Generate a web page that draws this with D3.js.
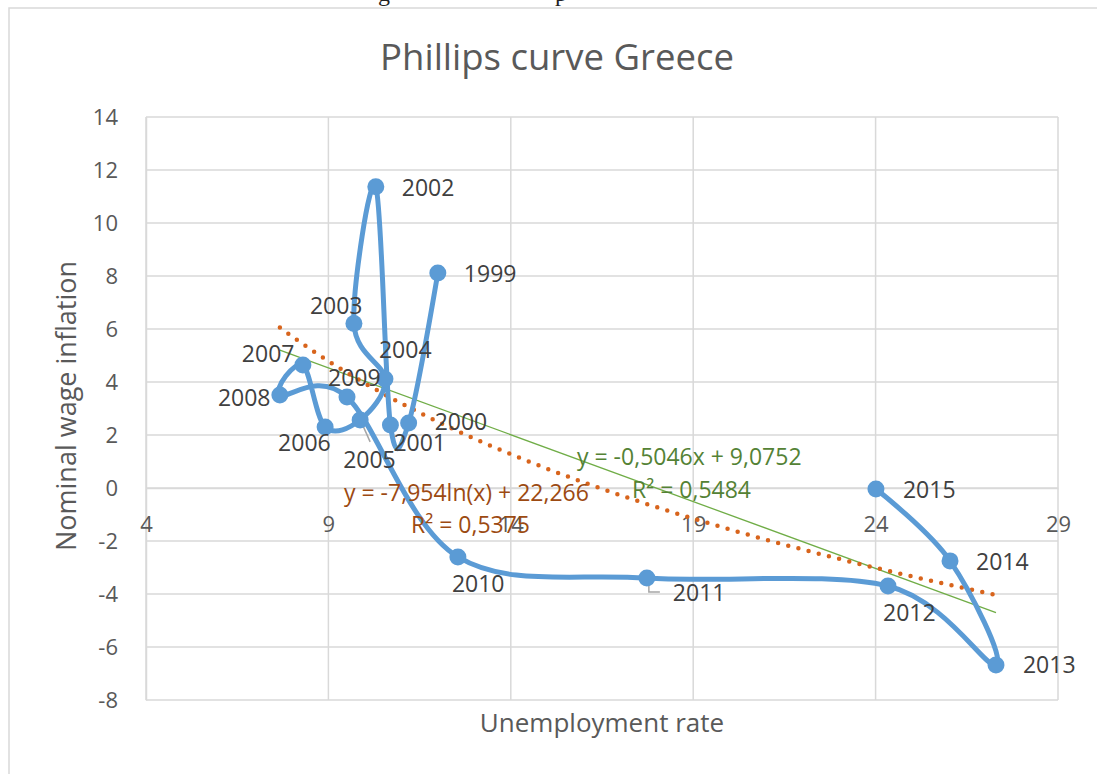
<!DOCTYPE html>
<html>
<head>
<meta charset="utf-8">
<script src="https://cdn.jsdelivr.net/npm/d3@7/dist/d3.min.js"></script>
<style>
  html, body { margin: 0; padding: 0; background: #ffffff; }
  svg { display: block; }
  text { font-family: "Open Sans", sans-serif; }
</style>
</head>
<body>
<svg id="chart" width="1097" height="774"></svg>
<script>
// ---------------- data ----------------
const years        = [1999, 2000, 2001, 2002, 2003, 2004, 2005, 2006, 2007, 2008, 2009, 2010, 2011, 2012, 2013, 2014, 2015];
const unemployment = [12.0, 11.2, 10.7, 10.3, 9.7, 10.55, 9.87, 8.91, 8.30, 7.67, 9.51, 12.55, 17.73, 24.34, 27.30, 26.04, 24.01];
const wageInflation= [8.11, 2.45, 2.38, 11.37, 6.21, 4.11, 2.57, 2.30, 4.64, 3.51, 3.43, -2.60, -3.40, -3.70, -6.68, -2.75, -0.04];

const xTicks = [4, 9, 14, 19, 24, 29];
const yTicks = [-8, -6, -4, -2, 0, 2, 4, 6, 8, 10, 12, 14];

// trendlines as shown on the chart
const linearCoef = [-0.5046, 9.0752];   // y = a x + b
const logCoef    = [-7.954, 22.266];    // y = a ln(x) + b
const linearLabel = ["y = -0,5046x + 9,0752", "R² = 0,5484"];
const logLabel    = ["y = -7,954ln(x) + 22,266", "R² = 0,5375"];

const titleText = "Phillips curve Greece";
const xTitle = "Unemployment rate";
const yTitle = "Nominal wage inflation";

// label placement (layout only): offset of label's left edge / vertical centre from point
const labelOffset = {
  1999: [26, 1], 2000: [26, -1], 2001: [3, 18], 2002: [26, 1], 2003: [-44, -17],
  2004: [-6, -29], 2005: [-17, 40], 2006: [-47, 16], 2007: [-61, -11], 2008: [-62, 3],
  2009: [-19, -19], 2010: [-6, 27], 2011: [26, 15], 2012: [-5, 27], 2013: [27, 0],
  2014: [26, 1], 2015: [27, 1]
};

// ---------------- layout ----------------
const svg = d3.select("#chart");
const plot = { left: 146, right: 1058, top: 117, bottom: 700 };

const x = d3.scaleLinear().domain([4, 29]).range([plot.left, plot.right]);
const y = d3.scaleLinear().domain([-8, 14]).range([plot.bottom, plot.top]);

const gridColor = "#d9d9d9";

// document text fragments at the very top (cut off)
svg.append("text").attr("x", 378).attr("y", 1)
  .attr("font-size", 24).attr("fill", "#222").style("font-family", "Liberation Serif").text("g");
svg.append("text").attr("x", 555).attr("y", 1)
  .attr("font-size", 24).attr("fill", "#222").style("font-family", "Liberation Serif").text("p");

// chart border
svg.append("rect").attr("x", 9).attr("y", 8).attr("width", 1200).attr("height", 900)
  .attr("fill", "#ffffff").attr("stroke", gridColor).attr("stroke-width", 1.5);

// gridlines
svg.append("g").selectAll("line").data(yTicks).join("line")
  .attr("x1", plot.left).attr("x2", plot.right)
  .attr("y1", d => y(d)).attr("y2", d => y(d))
  .attr("stroke", gridColor).attr("stroke-width", 1.5);
svg.append("g").selectAll("line").data(xTicks).join("line")
  .attr("y1", plot.top).attr("y2", plot.bottom)
  .attr("x1", d => x(d)).attr("x2", d => x(d))
  .attr("stroke", gridColor).attr("stroke-width", 1.5);

// axes (D3 axes, styled like Excel: no tick marks)
const fmt = d => String(d);
const yAxis = d3.axisLeft(y).tickValues(yTicks).tickSize(0).tickPadding(28).tickFormat(fmt);
const gy = svg.append("g").attr("transform", `translate(${plot.left},0)`).call(yAxis);
gy.select(".domain").attr("stroke", gridColor).attr("stroke-width", 1.5);
gy.selectAll("text").attr("font-size", 22).attr("fill", "#595959").attr("dy", "0.35em")
  .style("font-family", "Open Sans");

const xAxis = d3.axisBottom(x).tickValues(xTicks).tickSize(0).tickPadding(28).tickFormat(fmt);
const gx = svg.append("g").attr("transform", `translate(0,${y(0)})`).call(xAxis);
gx.select(".domain").attr("stroke", gridColor).attr("stroke-width", 1.5);
gx.selectAll("text").attr("font-size", 22).attr("fill", "#595959").attr("dy", "0.71em")
  .style("font-family", "Open Sans");

// data
const pts = years.map((yr, i) => ({ year: yr, x: unemployment[i], y: wageInflation[i] }));
const xMin = d3.min(unemployment), xMax = d3.max(unemployment);

// trendlines
const nSteps = 120;
const trendXs = d3.range(nSteps + 1).map(i => xMin + (xMax - xMin) * i / nSteps);
const lineGen = d3.line().x(d => x(d[0])).y(d => y(d[1]));

svg.append("path")
  .attr("d", lineGen([[xMin, linearCoef[0] * xMin + linearCoef[1]], [xMax, linearCoef[0] * xMax + linearCoef[1]]]))
  .attr("fill", "none").attr("stroke", "#70ad47").attr("stroke-width", 1.3);

svg.append("path")
  .attr("d", lineGen(trendXs.map(v => [v, logCoef[0] * Math.log(v) + logCoef[1]])))
  .attr("fill", "none").attr("stroke", "#d8641c").attr("stroke-width", 4.5)
  .attr("stroke-linecap", "round").attr("stroke-dasharray", "0 10.5");

// leader lines
const leader = svg.append("g").attr("stroke", "#a6a6a6").attr("stroke-width", 1.5).attr("fill", "none");
{
  const p11 = pts[years.indexOf(2011)];
  const px = x(p11.x), py = y(p11.y);
  leader.append("path").attr("d", `M${px + 2},${py + 7} L${px + 2},${py + 14} L${px + 13},${py + 14}`);
  const p05 = pts[years.indexOf(2005)];
  const qx = x(p05.x), qy = y(p05.y);
  leader.append("path").attr("d", `M${qx + 2},${qy + 4} L${qx + 10},${qy + 22}`);
}

// smoothed series line
const curve = d3.line().x(d => x(d.x)).y(d => y(d.y)).curve(d3.curveCardinal.tension(0));
svg.append("path").attr("d", curve(pts))
  .attr("fill", "none").attr("stroke", "#5b9bd5").attr("stroke-width", 5)
  .attr("stroke-linejoin", "round").attr("stroke-linecap", "round");

svg.append("g").selectAll("circle").data(pts).join("circle")
  .attr("cx", d => x(d.x)).attr("cy", d => y(d.y)).attr("r", 8.5)
  .attr("fill", "#5b9bd5");

// trendline labels
function eqLabel(lines, pos, color) {
  lines.forEach((t, i) => {
    svg.append("text").attr("x", pos[i][0]).attr("y", pos[i][1]).attr("dy", "0.35em")
      .attr("font-size", 23).attr("fill", color).text(t);
  });
}
eqLabel(logLabel, [[344, 493], [411, 525]], "#9c4a12");
eqLabel(linearLabel, [[577, 457], [632, 490]], "#548235");

// data labels
svg.append("g").selectAll("text").data(pts).join("text")
  .attr("x", d => x(d.x) + labelOffset[d.year][0])
  .attr("y", d => y(d.y) + labelOffset[d.year][1])
  .attr("dy", "0.35em")
  .attr("font-size", 23).attr("fill", "#404040")
  .text(d => d.year);

// titles
svg.append("text").attr("x", 557).attr("y", 57).attr("dy", "0.35em").attr("text-anchor", "middle")
  .attr("font-size", 36.5).attr("fill", "#595959").text(titleText);
svg.append("text").attr("x", 602).attr("y", 723).attr("dy", "0.35em").attr("text-anchor", "middle")
  .attr("font-size", 26).attr("fill", "#595959").text(xTitle);
svg.append("text").attr("transform", "translate(67,406) rotate(-90)").attr("dy", "0.35em")
  .attr("text-anchor", "middle").attr("font-size", 27).attr("fill", "#595959").text(yTitle);
</script>
</body>
</html>
